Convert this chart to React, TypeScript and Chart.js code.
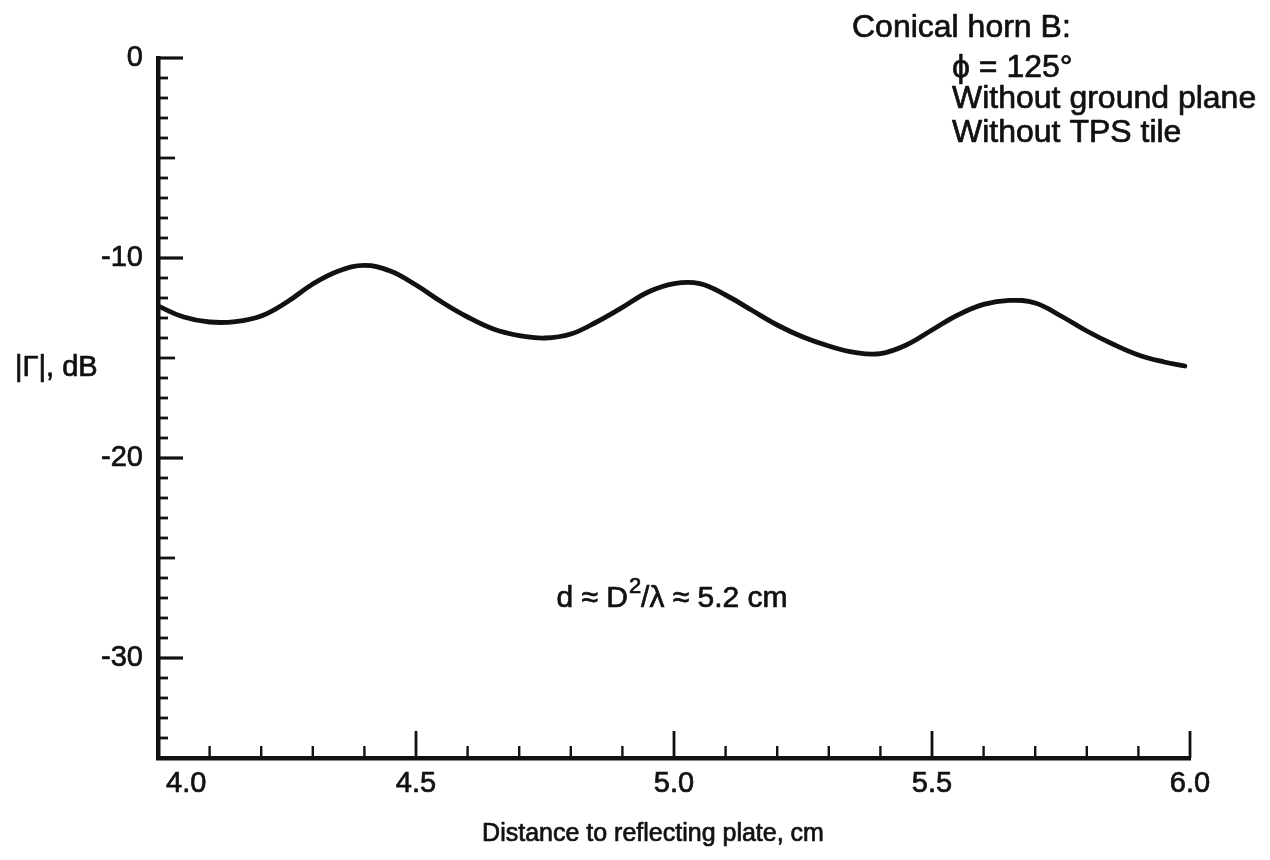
import React, { useEffect, useRef } from "react";
import { Chart, registerables } from "chart.js";

Chart.register(...registerables);

// ---- data ----
const distanceCm = [
  4.0, 4.05, 4.1, 4.15, 4.2, 4.25, 4.3, 4.35, 4.4, 4.45, 4.5, 4.55, 4.6, 4.65,
  4.7, 4.75, 4.8, 4.85, 4.9, 4.95, 5.0, 5.05, 5.1, 5.15, 5.2, 5.25, 5.3, 5.35,
  5.4, 5.45, 5.5, 5.55, 5.6, 5.65, 5.7, 5.75, 5.8, 5.85, 5.9, 5.95, 5.99,
];
const gammaDb = [
  -12.4, -12.95, -13.2, -13.18, -12.9, -12.2, -11.3, -10.65, -10.37, -10.65,
  -11.35, -12.2, -12.95, -13.55, -13.88, -14.0, -13.8, -13.2, -12.47, -11.7,
  -11.28, -11.28, -11.85, -12.6, -13.35, -13.95, -14.4, -14.72, -14.78, -14.35,
  -13.6, -12.85, -12.32, -12.12, -12.25, -12.9, -13.65, -14.3, -14.85, -15.2,
  -15.4,
];
const xTickValues = [4.0, 4.5, 5.0, 5.5, 6.0];
const xTickLabels = ["       4.0", "4.5", "5.0", "5.5", "6.0"];
const yTickValues = [0, -10, -20, -30];
const yTickLabels = ["0", "-10", "-20", "-30"];
const noteLines = ["Conical horn B:", "ϕ = 125°", "Without ground plane", "Without TPS tile"];
const xAxisTitle = "Distance to reflecting plate, cm";
const yAxisTitle = "|Γ|, dB";
const formulaParts = ["d ≈ D", "2", "/λ ≈ 5.2 cm"];

const FONT = '"Liberation Sans", Arial, Helvetica, sans-serif';
const INK = "#111";

const near = (a: number, b: number) => Math.abs(a - b) < 1e-6;

const inwardTicks = {
  id: "inwardTicks",
  afterDraw(chart: any) {
    const ctx = chart.ctx as CanvasRenderingContext2D;
    const xs = chart.scales.x;
    const ys = chart.scales.y;
    const { left, bottom } = chart.chartArea;
    ctx.save();
    ctx.strokeStyle = INK;
    ctx.lineCap = "butt";
    xs.ticks.forEach((t: any) => {
      const v = t.value;
      if (near(v, xs.min)) return;
      const major = near(v * 2, Math.round(v * 2));
      const px = xs.getPixelForValue(v);
      ctx.lineWidth = major ? 2.8 : 2.4;
      ctx.beginPath();
      ctx.moveTo(px, bottom);
      ctx.lineTo(px, bottom - (major ? 27 : 12));
      ctx.stroke();
    });
    ys.ticks.forEach((t: any) => {
      const v = t.value;
      if (near(v, ys.min)) return;
      const m10 = near(v / 10, Math.round(v / 10));
      const m5 = near(v / 5, Math.round(v / 5));
      const len = m10 ? 25 : m5 ? 17 : 10;
      const py = ys.getPixelForValue(v);
      ctx.lineWidth = m10 ? 3.2 : 2.8;
      ctx.beginPath();
      ctx.moveTo(left, py);
      ctx.lineTo(left + len, py);
      ctx.stroke();
    });
    ctx.restore();
  },
};

function heavyText(ctx: CanvasRenderingContext2D, s: string, x: number, y: number) {
  ctx.fillText(s, x, y);
  ctx.strokeText(s, x, y);
}

const textPlugin = {
  id: "textPlugin",
  afterDraw(chart: any) {
    const ctx = chart.ctx as CanvasRenderingContext2D;
    ctx.save();
    ctx.fillStyle = INK;
    ctx.strokeStyle = INK;
    ctx.lineWidth = 0.7;
    ctx.lineJoin = "round";
    ctx.textBaseline = "alphabetic";
    ctx.textAlign = "left";
    // notes top right
    ctx.font = `32px ${FONT}`;
    heavyText(ctx, noteLines[0], 852, 37);
    heavyText(ctx, noteLines[1], 952, 77);
    heavyText(ctx, noteLines[2], 952, 108);
    heavyText(ctx, noteLines[3], 952, 142);
    // y axis title (horizontal)
    ctx.font = `29px ${FONT}`;
    heavyText(ctx, yAxisTitle, 15, 376);
    // x axis title
    ctx.font = `25px ${FONT}`;
    ctx.textAlign = "center";
    heavyText(ctx, xAxisTitle, 653, 841);
    // formula
    ctx.textAlign = "left";
    const base = 607;
    const big = `30px ${FONT}`;
    const small = `22px ${FONT}`;
    ctx.font = big;
    const w0 = ctx.measureText(formulaParts[0]).width;
    const w2 = ctx.measureText(formulaParts[2]).width;
    ctx.font = small;
    const w1 = ctx.measureText(formulaParts[1]).width;
    let x = 672 - (w0 + w1 + w2 + 1) / 2;
    ctx.font = big;
    heavyText(ctx, formulaParts[0], x, base);
    x += w0 + 1;
    ctx.font = small;
    heavyText(ctx, formulaParts[1], x, base - 14);
    x += w1;
    ctx.font = big;
    heavyText(ctx, formulaParts[2], x, base);
    ctx.restore();
  },
};

export default function App() {
  const ref = useRef<HTMLCanvasElement | null>(null);

  useEffect(() => {
    if (!ref.current) return;
    const points = distanceCm.map((d, i) => ({ x: d, y: gammaDb[i] }));
    const chart = new Chart(ref.current, {
      type: "line",
      data: {
        datasets: [
          {
            data: points,
            borderColor: INK,
            borderWidth: 4.8,
            pointRadius: 0,
            fill: false,
            tension: 0.4,
            borderCapStyle: "round",
            borderJoinStyle: "round",
          },
        ],
      },
      options: {
        animation: false,
        responsive: false,
        devicePixelRatio: 1,
        events: [],
        layout: { padding: { top: 58, right: 80, bottom: 0, left: 0 } },
        plugins: { legend: { display: false }, tooltip: { enabled: false } },
        scales: {
          x: {
            type: "linear",
            min: 4,
            max: 6,
            grid: { display: false, drawTicks: false, tickLength: 0 },
            border: { display: true, color: INK, width: 4.5 },
            ticks: {
              stepSize: 0.1,
              autoSkip: false,
              maxRotation: 0,
              minRotation: 0,
              padding: 9,
              color: INK,
              textStrokeColor: INK,
              textStrokeWidth: 0.7,
              font: { family: FONT, size: 29 },
              callback: (v: any) => {
                const i = xTickValues.findIndex((t) => near(t, Number(v)));
                return i >= 0 ? xTickLabels[i] : "";
              },
            },
            afterFit: (s: any) => {
              s.height = 102;
            },
          },
          y: {
            type: "linear",
            min: -35,
            max: 0,
            grid: { display: false, drawTicks: false, tickLength: 0 },
            border: { display: true, color: INK, width: 4.5 },
            ticks: {
              stepSize: 1,
              autoSkip: false,
              padding: 15,
              color: INK,
              textStrokeColor: INK,
              textStrokeWidth: 0.7,
              font: { family: FONT, size: 29 },
              callback: (v: any) => {
                const i = yTickValues.findIndex((t) => near(t, Number(v)));
                return i >= 0 ? yTickLabels[i] : "";
              },
            },
            afterFit: (s: any) => {
              s.width = 158;
            },
          },
        },
      },
      plugins: [inwardTicks, textPlugin],
    });
    return () => chart.destroy();
  }, []);

  return (
    <div style={{ position: "fixed", left: 0, top: 0, width: 1270, height: 860, background: "#fff" }}>
      <canvas ref={ref} width={1270} height={860} style={{ display: "block" }} />
    </div>
  );
}
